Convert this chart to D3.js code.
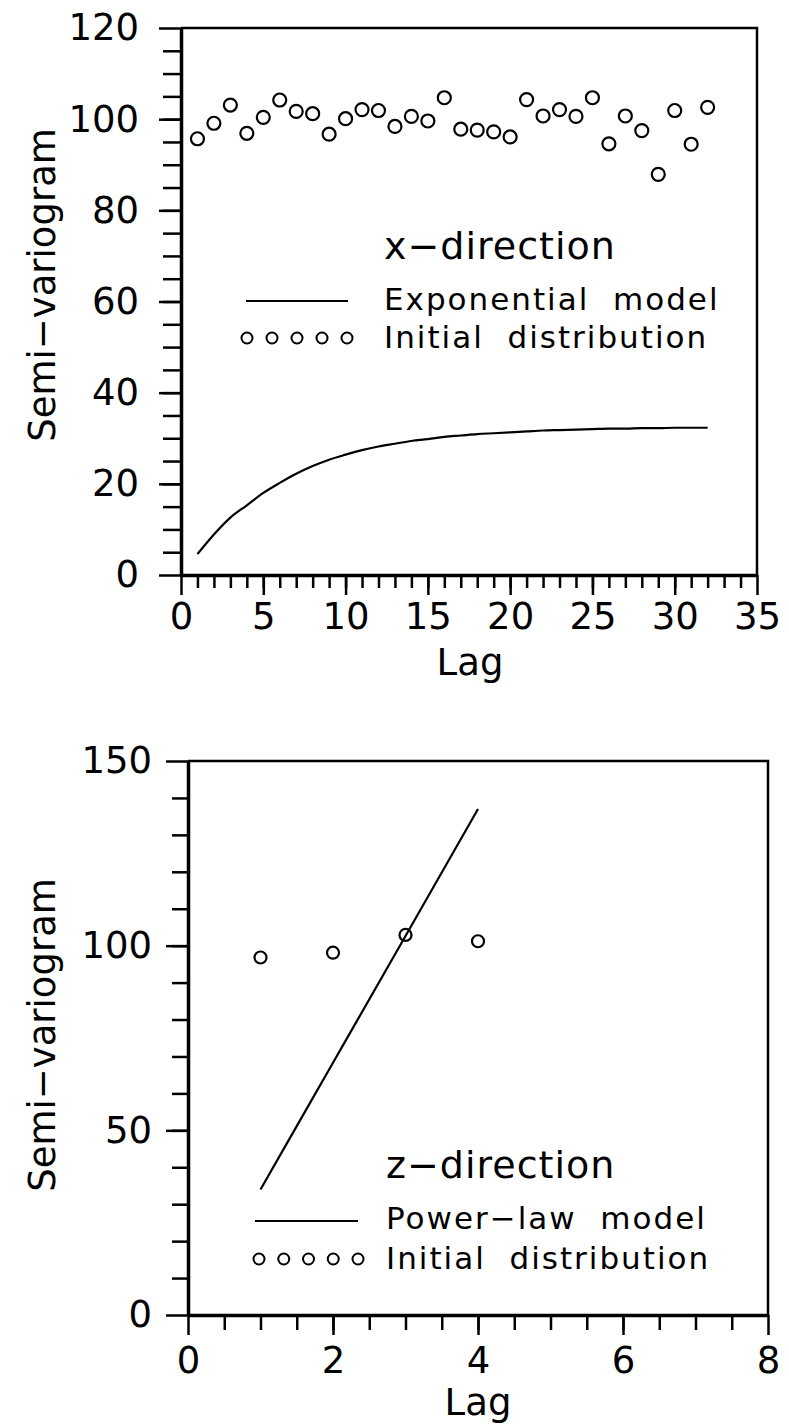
<!DOCTYPE html>
<meta charset="utf-8">
<style>
  body { margin: 0; background: #fff; }
  text { font-family: "DejaVu Sans", sans-serif; fill: #000; }
  .tick text { font-size: 37px; fill: #000; }
  .tick line { stroke: #000; stroke-width: 2.5px; }
  .domain { stroke: #000; stroke-width: 3.5px; }
  .legend text { font-size: 31px; letter-spacing: 2px; white-space: pre; }
  .title { font-size: 37px; }
</style>
<body>
<script src="https://cdn.jsdelivr.net/npm/d3@7/dist/d3.min.js"></script>
<script>
// x-direction panel
var lagX = [1, 2, 3, 4, 5, 6, 7, 8, 9, 10, 11, 12, 13, 14, 15, 16,
            17, 18, 19, 20, 21, 22, 23, 24, 25, 26, 27, 28, 29, 30, 31, 32];
var initialX = [95.7, 99.1, 103.1, 96.9, 100.4, 104.2, 101.7, 101.2, 96.7, 100.1, 102.1, 101.9,
                98.4, 100.6, 99.6, 104.7, 97.8, 97.6, 97.2, 96.1, 104.3, 100.7, 102.1, 100.6,
                104.7, 94.6, 100.7, 97.5, 87.9, 101.9, 94.5, 102.6];
var expModel = [4.6, 8.9, 12.6, 15.3, 18.0, 20.2, 22.2, 23.9, 25.3, 26.4, 27.4, 28.2,
                28.8, 29.4, 29.8, 30.3, 30.6, 30.9, 31.1, 31.3, 31.5, 31.7, 31.8, 31.9,
                32.0, 32.1, 32.1, 32.2, 32.2, 32.3, 32.3, 32.3];
var xTicksX = [0, 5, 10, 15, 20, 25, 30, 35];
var yTicksX = [0, 20, 40, 60, 80, 100, 120];

// z-direction panel
var lagZ = [1, 2, 3, 4];
var initialZ = [96.8, 98.1, 102.9, 101.2];
var powerModel = [34, 68.3, 102.6, 137];
var xTicksZ = [0, 2, 4, 6, 8];
var yTicksZ = [0, 50, 100, 150];

var svg = d3.select("body").append("svg")
    .attr("width", 789)
    .attr("height", 1428);

function panel(o) {
  var x = d3.scaleLinear().domain(o.xDomain).range([o.left, o.right]);
  var y = d3.scaleLinear().domain(o.yDomain).range([o.bottom, o.top]);
  var g = svg.append("g");

  // top and right side of the box
  g.append("path")
      .attr("d", "M" + o.left + "," + o.top + "H" + o.right + "V" + o.bottom)
      .attr("fill", "none")
      .attr("stroke", "#000")
      .attr("stroke-width", 2.5);

  // minor ticks
  g.append("g")
      .attr("transform", "translate(" + o.left + ",0)")
      .call(d3.axisLeft(y).tickValues(o.yMinor).tickSize(o.yMinorLen).tickFormat(""))
      .call(function(a) { a.select(".domain").remove(); });
  g.append("g")
      .attr("transform", "translate(0," + o.bottom + ")")
      .call(d3.axisBottom(x).tickValues(o.xMinor).tickSize(o.xMinorLen).tickFormat(""))
      .call(function(a) { a.select(".domain").remove(); });

  // major ticks + labels
  g.append("g")
      .attr("transform", "translate(" + o.left + ",0)")
      .call(d3.axisLeft(y).tickValues(o.yTicks).tickSize(22).tickSizeOuter(0).tickPadding(o.yPad));
  g.append("g")
      .attr("transform", "translate(0," + o.bottom + ")")
      .call(d3.axisBottom(x).tickValues(o.xTicks).tickSize(20).tickSizeOuter(0).tickPadding(o.xPad));

  // model curve
  var line = d3.line()
      .x(function(d, i) { return x(o.lags[i]); })
      .y(function(d) { return y(d); })
      .curve(d3.curveMonotoneX);
  g.append("path")
      .datum(o.model)
      .attr("d", line)
      .attr("fill", "none")
      .attr("stroke", "#000")
      .attr("stroke-width", 2.2);

  // observed points
  g.selectAll("circle.pt").data(o.points).enter().append("circle")
      .attr("class", "pt")
      .attr("cx", function(d, i) { return x(o.lags[i]); })
      .attr("cy", function(d) { return y(d); })
      .attr("r", o.r)
      .attr("fill", "none")
      .attr("stroke", "#000")
      .attr("stroke-width", 2.2);

  // axis titles
  g.append("text").attr("class", "title")
      .attr("text-anchor", "middle")
      .attr("transform", "translate(55," + o.yTitleY + ") rotate(-90)")
      .text("Semi\u2212variogram");
  g.append("text").attr("class", "title")
      .attr("text-anchor", "middle")
      .attr("x", o.xTitleX).attr("y", o.xTitleY)
      .text("Lag");

  // legend
  var lg = g.append("g").attr("class", "legend");
  var L = o.legend;
  lg.append("text").attr("x", L.x).attr("y", L.y0)
      .style("font-size", "38px")
      .style("letter-spacing", "1px")
      .text(L.title);
  lg.append("line")
      .attr("x1", L.lineX[0]).attr("x2", L.lineX[1])
      .attr("y1", L.lineY).attr("y2", L.lineY)
      .attr("stroke", "#000").attr("stroke-width", 2);
  lg.append("text").attr("x", L.x).attr("y", L.y1).text(L.model);
  lg.selectAll("circle").data([0, 1, 2, 3, 4]).enter().append("circle")
      .attr("cx", function(d) { return L.dotX + d * L.dotStep; })
      .attr("cy", L.dotY)
      .attr("r", 5.5)
      .attr("fill", "none")
      .attr("stroke", "#000")
      .attr("stroke-width", 2);
  lg.append("text").attr("x", L.x).attr("y", L.y2).text("Initial  distribution");
}

panel({
  xDomain: [0, 35], yDomain: [0, 120],
  left: 181, right: 757, top: 28, bottom: 575,
  xTicks: xTicksX, yTicks: yTicksX,
  xMinor: d3.range(1, 35), yMinor: d3.range(5, 120, 5),
  xMinorLen: 13, yMinorLen: 18, xPad: 8, yPad: 20,
  lags: lagX, model: expModel, points: initialX, r: 6.5,
  yTitleY: 285, xTitleX: 470, xTitleY: 675,
  legend: { x: 384, title: "x\u2212direction", model: "Exponential  model",
            y0: 259, y1: 310, y2: 348, lineX: [246, 348], lineY: 301,
            dotX: 247, dotStep: 25, dotY: 338 }
});

panel({
  xDomain: [0, 8], yDomain: [0, 150],
  left: 188, right: 768, top: 761, bottom: 1315,
  xTicks: xTicksZ, yTicks: yTicksZ,
  xMinor: d3.range(0.5, 8, 0.5), yMinor: d3.range(10, 150, 10),
  xMinorLen: 15, yMinorLen: 16, xPad: 12, yPad: 14,
  lags: lagZ, model: powerModel, points: initialZ, r: 6,
  yTitleY: 1035, xTitleX: 478, xTitleY: 1415,
  legend: { x: 386, title: "z\u2212direction", model: "Power\u2212law  model",
            y0: 1178, y1: 1229, y2: 1269, lineX: [255, 358], lineY: 1221,
            dotX: 259, dotStep: 24.75, dotY: 1259 }
});
</script>
